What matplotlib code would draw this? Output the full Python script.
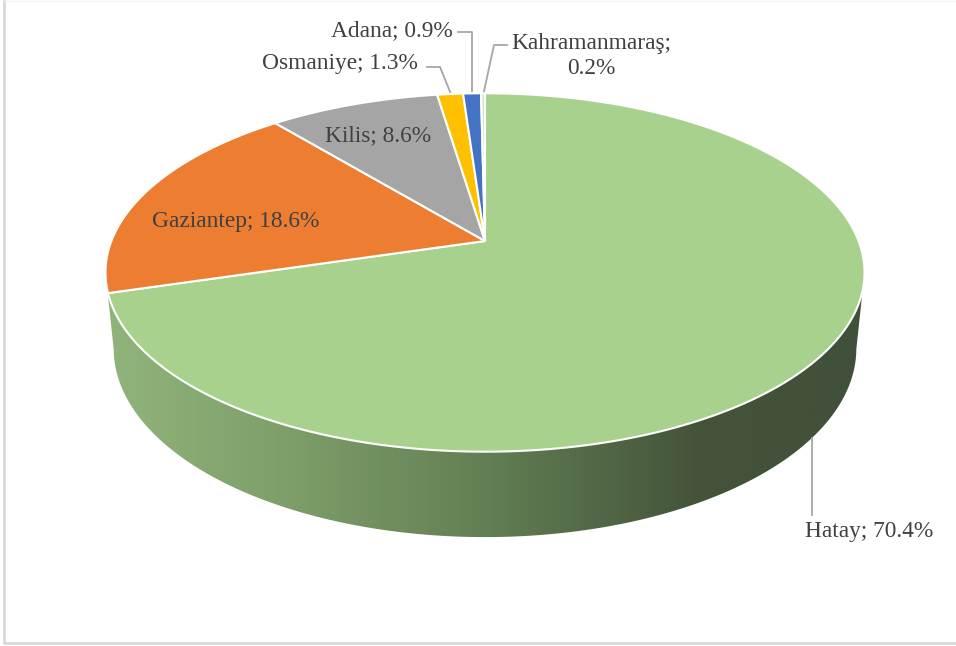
import numpy as np
import matplotlib.pyplot as plt
from matplotlib.patches import Polygon
from matplotlib.colors import LinearSegmentedColormap

# ---- data ----
labels = ["Hatay", "Gaziantep", "Kilis", "Osmaniye", "Adana", "Kahramanmaraş"]
values = [70.4, 18.6, 8.6, 1.3, 0.9, 0.2]
colors = ["#A9D18E", "#ED7D31", "#A5A5A5", "#FFC000", "#4472C4", "#D5E8C8"]

# ---- 3D view (pixel canvas) ----
CX, CY = 485.0, 241.0      # pie centre on screen
F = 1883.0                 # focal scale
DIST = 5.04                # camera distance (radius units)
ELEV = np.radians(27.7)
H = 0.232                  # thickness
S, C = np.sin(ELEV), np.cos(ELEV)

TXT = "#404040"
LINE = "#A6A6A6"
FONT = "Liberation Serif"
FS = 16.8


def project(theta, z=0.0):
    x, y = np.cos(theta), np.sin(theta)
    depth = DIST + y * C - z * S
    return CX + F * x / depth, CY - F * (y * S + z * C) / depth


fig = plt.figure(figsize=(9.56, 6.46), dpi=100)
ax = fig.add_axes([0, 0, 1, 1])
ax.set_xlim(0, 956)
ax.set_ylim(646, 0)
ax.axis("off")

# chart frame
ax.plot([4.5, 4.5, 956], [0, 643, 643], color="#D9D9D9", lw=2)
ax.plot([4.5, 956], [0.5, 0.5], color="#F2F2F2", lw=1)

# angles (clockwise from 12 o'clock)
bounds = 90.0 - 3.6 * np.concatenate([[0], np.cumsum(values)])
starts, ends = np.radians(bounds[:-1]), np.radians(bounds[1:])

# ---- side wall (front, visible part) ----
tl = -np.pi + np.arcsin(C / DIST)
tr = -np.arcsin(C / DIST)
th = np.linspace(tl, tr, 300)
tx, ty = project(th, 0.0)
bx, by = project(th[::-1], -H)
side = Polygon(np.column_stack([np.r_[tx, bx], np.r_[ty, by]]), closed=True,
               facecolor="none", edgecolor="none")
ax.add_patch(side)
grad = LinearSegmentedColormap.from_list(
    "side", [(0.0, "#90B57C"), (0.25, "#7D9D69"), (0.5, "#627F53"),
             (0.78, "#44543A"), (1.0, "#41503A")])
img = ax.imshow(np.linspace(0, 1, 256)[None, :], cmap=grad, aspect="auto",
                extent=[tx.min(), tx.max(), by.max() + 2, ty.min()], zorder=1)
img.set_clip_path(side)

# ---- top face ----
for a0, a1, col in zip(starts, ends, colors):
    t = np.linspace(a0, a1, max(4, int(abs(a1 - a0) * 120)))
    px, py = project(t)
    poly = Polygon(np.column_stack([np.r_[CX, px], np.r_[CY, py]]), closed=True,
                   facecolor=col, edgecolor="white", lw=1.5, zorder=2)
    ax.add_patch(poly)

# ---- labels ----
mids = (starts + ends) / 2
kw = dict(color=TXT, fontsize=FS, family=FONT, zorder=5)

# Hatay: leader from bottom rim
hx, hy = project(mids[0], -H)
ax.plot([hx, hx], [hy, 515], color=LINE, lw=1.3, zorder=4)
ax.text(hx - 7, 531, f"{labels[0]}; {values[0]}%", ha="left", va="center", **kw)

ax.text(236, 222, f"{labels[1]}; {values[1]}%", ha="center", va="center", **kw)
ax.text(378, 136, f"{labels[2]}; {values[2]}%", ha="center", va="center", **kw)

# Osmaniye
ox, oy = project(mids[3])
ax.plot([427, 440, ox], [67, 67, oy - 2], color=LINE, lw=1.3, zorder=4)
ax.text(418, 64, f"{labels[3]}; {values[3]}%", ha="right", va="center", **kw)

# Adana
dx, dy = project(mids[4])
ax.plot([458, dx, dx], [32, 32, dy - 2], color=LINE, lw=1.3, zorder=4)
ax.text(453, 31, f"{labels[4]}; {values[4]}%", ha="right", va="center", **kw)

# Kahramanmaraş
kx, ky = project(mids[5])
ax.plot([507, 494, kx + 1], [45, 45, ky - 2], color=LINE, lw=1.3, zorder=4)
ax.text(591, 56, f"{labels[5]};\n{values[5]}%", ha="center", va="center",
        linespacing=1.2, **kw)

fig.savefig("out.png", dpi=100, facecolor="white")
